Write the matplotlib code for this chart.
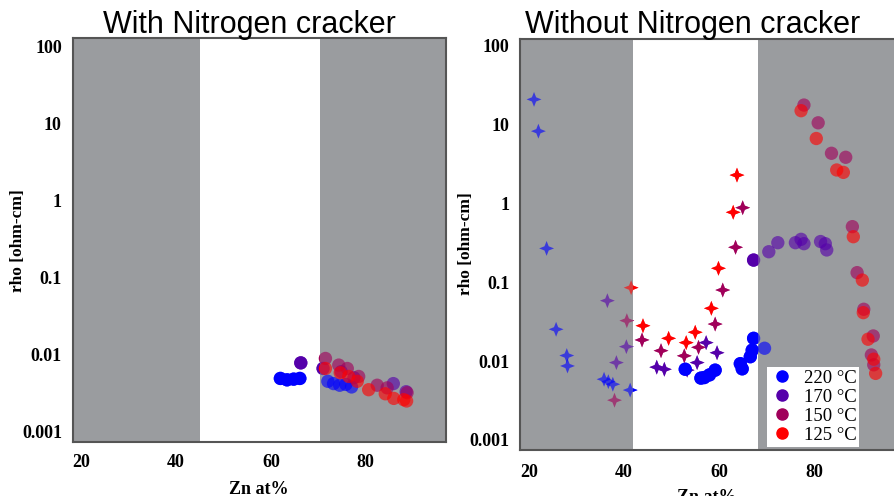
import numpy as np
import matplotlib
matplotlib.use("Agg")
import matplotlib.pyplot as plt
from matplotlib.lines import Line2D
from matplotlib.patches import Rectangle
import matplotlib.transforms as mtransforms

# ---------------- data ----------------
temps = ["220 °C", "170 °C", "150 °C", "125 °C"]
colors = ["#0000ff", "#5500aa", "#a0005a", "#ff0000"]

# Left panel: with nitrogen cracker (circles)
L_x_220 = [62.0, 63.4, 64.8, 66.1, 72.0, 73.2, 74.5, 75.8, 77.0]
L_y_220 = [0.0049, 0.0047, 0.0048, 0.0049, 0.0045, 0.0042, 0.0040, 0.0041, 0.0038]
L_x_170 = [66.3, 71.0, 74.8, 77.5, 85.8, 88.5]
L_y_170 = [0.0078, 0.0066, 0.0060, 0.0050, 0.0042, 0.0033]
L_x_150 = [71.5, 74.3, 76.1, 78.5, 82.4, 84.5, 88.7]
L_y_150 = [0.0089, 0.0073, 0.0066, 0.0052, 0.0040, 0.0037, 0.0032]
L_x_125 = [71.5, 74.6, 76.4, 78.2, 80.6, 84.1, 85.9, 88.0, 88.6]
L_y_125 = [0.0066, 0.0058, 0.0052, 0.0045, 0.0035, 0.0031, 0.0027, 0.0026, 0.0025]

# Right panel: without nitrogen cracker, stars
S_x_220 = [21.05, 21.97, 23.7, 25.7, 27.95, 28.1, 35.8, 36.7, 37.65, 41.3]
S_y_220 = [21, 8.3, 0.27, 0.0254, 0.0118, 0.0087, 0.0059, 0.0055, 0.0051, 0.0043]
S_x_170 = [36.5, 40.5, 38.4, 46.9, 48.5, 53.3, 55.4, 57.3, 59.6]
S_y_170 = [0.0586, 0.0153, 0.0096, 0.0084, 0.0079, 0.0077, 0.0096, 0.0172, 0.0128]
S_x_150 = [40.6, 38.0, 43.8, 47.8, 52.7, 55.7, 59.2, 60.8, 63.5, 65.0]
S_y_150 = [0.0327, 0.0032, 0.0186, 0.0136, 0.0117, 0.0150, 0.0296, 0.080, 0.279, 0.887]
S_x_125 = [41.5, 44.0, 49.4, 53.1, 55.0, 58.4, 59.9, 63.0, 63.8]
S_y_125 = [0.0857, 0.0282, 0.0195, 0.0172, 0.0233, 0.0469, 0.151, 0.776, 2.3]

# Right panel: circles
C_x_220 = [52.9, 56.2, 56.9, 58.0, 59.2, 64.5, 64.9, 66.6, 67.0, 67.3, 69.6]
C_y_220 = [0.0079, 0.0061, 0.0062, 0.0067, 0.0077, 0.0093, 0.0080, 0.0114, 0.0138, 0.0195, 0.0146]
C_x_170 = [67.3, 70.5, 72.4, 76.1, 77.3, 77.9, 81.4, 82.4, 82.7]
C_y_170 = [0.192, 0.245, 0.319, 0.319, 0.352, 0.31, 0.33, 0.31, 0.258]
C_x_150 = [77.9, 80.9, 83.7, 86.7, 88.1, 89.1, 90.5, 92.5, 92.1, 92.6]
C_y_150 = [17.8, 10.6, 4.35, 3.87, 0.51, 0.133, 0.0456, 0.0209, 0.0120, 0.0090]
C_x_125 = [77.3, 80.5, 84.8, 86.2, 88.3, 90.2, 90.4, 91.4, 92.6, 93.0]
C_y_125 = [15.1, 6.7, 2.67, 2.49, 0.38, 0.107, 0.0413, 0.019, 0.0106, 0.0070]

yticks = [0.001, 0.01, 0.1, 1, 10, 100]
ytick_labels = ["0.001", "0.01", "0.1", "1", "10", "100"]
xticks = [20, 40, 60, 80]

left_white = (45.0, 70.4)
right_white = (42.0, 68.2)

# ---------------- style ----------------
GRAY = "#9a9c9f"
SPINE = "#555555"
SERIF = ["Liberation Serif", "DejaVu Serif"]
SANS = ["Liberation Sans", "DejaVu Sans"]
ALPHA = 0.62

ang = np.arange(8) * np.pi / 4 + np.pi / 2
rad = np.array([1.0, 0.4] * 4)
star = list(zip(rad * np.cos(ang), rad * np.sin(ang)))
star.append(star[0])

W, H = 895, 496
fig = plt.figure(figsize=(W / 100, H / 100), dpi=100)

def px_axes(l, t, r, b):
    return fig.add_axes([l / W, 1 - b / H, (r - l) / W, (b - t) / H])

axL = px_axes(73, 38, 446, 441.7)
axR = px_axes(520.3, 39.3, 897, 450)

def style(ax, white, xlim, ylim, xpad):
    ax.set_yscale("log")
    ax.set_xlim(*xlim)
    ax.set_ylim(*ylim)
    ax.axvspan(xlim[0] - 5, white[0], color=GRAY, lw=0, zorder=0)
    ax.axvspan(white[1], xlim[1] + 5, color=GRAY, lw=0, zorder=0)
    ax.set_yticks(yticks)
    ax.set_yticklabels(ytick_labels)
    ax.yaxis.set_minor_locator(matplotlib.ticker.NullLocator())
    ax.set_xticks(xticks)
    ax.tick_params(length=0, labelsize=13)
    ax.tick_params(axis="y", pad=8)
    ax.tick_params(axis="x", pad=xpad)
    for lab in ax.get_xticklabels() + ax.get_yticklabels():
        lab.set_family(SERIF)
        lab.set_fontweight("bold")
    for s in ax.spines.values():
        s.set_color(SPINE)
        s.set_linewidth(1.5)
    ax.set_facecolor("white")

style(axL, left_white, (18.3, 96.9), (10 ** -3.13, 10 ** 2.104), 9)
style(axR, right_white, (18.16, 97.5), (10 ** -3.127, 10 ** 2.085), 10)

def plot_series(ax, white, x, y, c, marker, s):
    # muted over grey bands, full colour inside the white band
    ax.scatter(x, y, s=s, marker=marker, color=c, alpha=ALPHA, edgecolors="none", zorder=3)
    sc = ax.scatter(x, y, s=s, marker=marker, color=c, alpha=1.0, edgecolors="none", zorder=4)
    tr = mtransforms.blended_transform_factory(ax.transData, ax.transAxes)
    clip = Rectangle((white[0], 0), white[1] - white[0], 1, transform=tr)
    sc.set_clip_path(clip)

CS = 92
SS = 115
for x, y, c in [(L_x_220, L_y_220, colors[0]), (L_x_170, L_y_170, colors[1]),
                (L_x_150, L_y_150, colors[2]), (L_x_125, L_y_125, colors[3])]:
    plot_series(axL, left_white, x, y, c, "o", CS)

for x, y, c in [(S_x_220, S_y_220, colors[0]), (S_x_170, S_y_170, colors[1]),
                (S_x_150, S_y_150, colors[2]), (S_x_125, S_y_125, colors[3])]:
    plot_series(axR, right_white, x, y, c, star, SS)

for x, y, c in [(C_x_220, C_y_220, colors[0]), (C_x_170, C_y_170, colors[1]),
                (C_x_150, C_y_150, colors[2]), (C_x_125, C_y_125, colors[3])]:
    plot_series(axR, right_white, x, y, c, "o", CS)

handles = [Line2D([], [], marker="o", ls="none", color=c, markersize=8) for c in colors]
leg = axR.legend(handles, temps, loc="lower right",
                 bbox_to_anchor=(859.3 / W, 1 - 446.7 / H), bbox_transform=fig.transFigure,
                 borderaxespad=0, frameon=True, fancybox=False, framealpha=1,
                 handlelength=1.3, handletextpad=0.52, labelspacing=0.1, borderpad=0.15,
                 prop={"family": SERIF, "size": 13.5})
leg.get_frame().set_edgecolor("white")
leg.get_frame().set_linewidth(0)
leg.set_zorder(5)

# titles
fig.text(249 / W, 1 - 33 / H, "With Nitrogen cracker", ha="center", va="baseline",
         fontsize=22, family=SANS)
fig.text(693 / W, 1 - 33 / H, "Without Nitrogen cracker", ha="center", va="baseline",
         fontsize=22, family=SANS)

# axis labels
fig.text(18 / W, 1 - 241 / H, "rho [ohm-cm]", rotation=90, ha="center", va="center",
         fontsize=12.5, family=SERIF, fontweight="bold")
fig.text(466 / W, 1 - 244 / H, "rho [ohm-cm]", rotation=90, ha="center", va="center",
         fontsize=12.5, family=SERIF, fontweight="bold")
fig.text(258.5 / W, 1 - 489 / H, "Zn at%", ha="center", va="center",
         fontsize=13, family=SERIF, fontweight="bold")
# the reference shows this label cut by the bottom edge of the image
fig.text(707 / W, 1 - 489.5 / H, "Zn at%", ha="center", va="top",
         fontsize=13, family=SERIF, fontweight="bold")

fig.savefig("out.png", dpi=100)
